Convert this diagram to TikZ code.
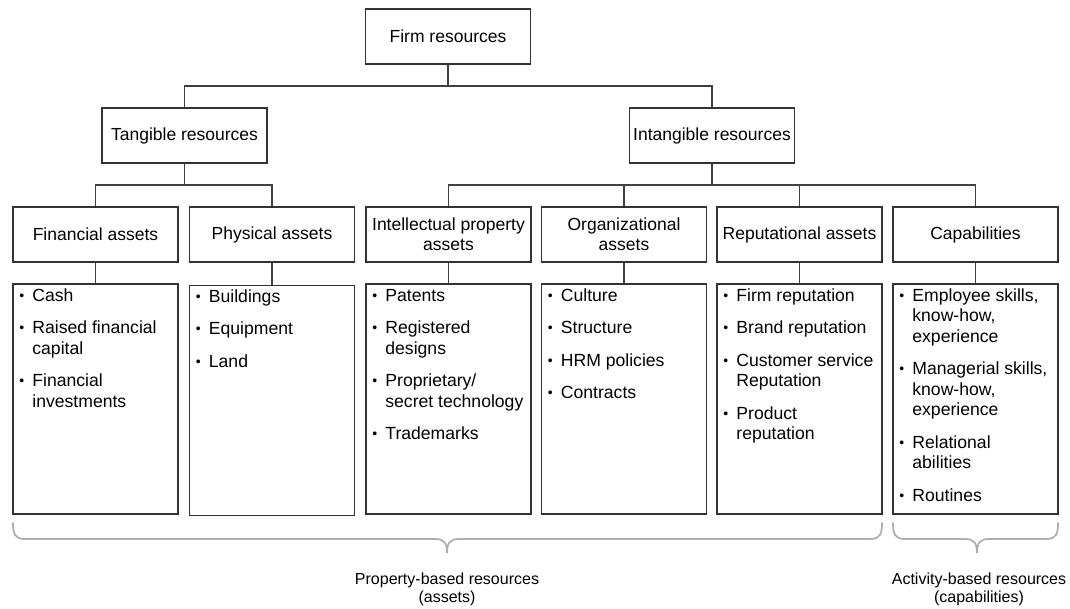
\documentclass[tikz,border=0pt]{standalone}
\usepackage{fontspec}
\setmainfont{Liberation Sans}
\usetikzlibrary{calc}

% type sizes
\newcommand{\boxfont}{\fontsize{17.5}{20}\selectfont}
\newcommand{\listfont}{\fontsize{17.6}{20.5}\selectfont}
\newcommand{\notefont}{\fontsize{16}{18}\selectfont}
% bullet list set as a two-column table: bullet | text
\newcommand{\blist}[1]{\begin{tabular}[t]{@{}p{13pt}@{}l@{}}#1\end{tabular}}
\newcommand{\bu}{{\fontsize{14}{14}\selectfont\raisebox{1pt}{•}}}
\newcommand{\gap}{\\[12pt]}

\begin{document}
\begin{tikzpicture}[x=1pt, y=-1pt,
  hbox/.style={draw=black!80, line width=1.6pt, minimum width=165pt,
    minimum height=55pt, inner sep=0pt, align=center, font=\boxfont},
  listbox/.style={draw=black!80, line width=1.6pt, minimum width=165pt,
    minimum height=230pt, inner sep=0pt},
  listtext/.style={anchor=base west, inner sep=0pt, font=\listfont, align=left},
  link/.style={draw=black!75, line width=1.7pt},
  elbow/.style={to path={(\tikztostart) |- ($(\tikztostart)!0.5!(\tikztotarget)$) -| (\tikztotarget)}},
  brace/.style={draw=black!32, line width=1.7pt, line cap=round},
  note/.style={align=center, inner sep=0pt, font=\notefont}]

\useasboundingbox (0,0) rectangle (1070,609);

% top levels
\node[hbox] (firm)   at (448,36.5)  {Firm resources};
\node[hbox] (tang)   at (184.5,135.5) {Tangible resources};
\node[hbox] (intang) at (712,135.5) {Intangible resources};

% resource categories
\node[hbox] (fin)  at (95.5,234.5)  {Financial assets};
\node[hbox] (phys) at (272,234.5)   {Physical assets};
\node[hbox] (ip)   at (448.5,234.5) {Intellectual property\\assets};
\node[hbox] (org)  at (624,234.5)   {Organizational\\assets};
\node[hbox] (rep)  at (799.5,234.5) {Reputational assets};
\node[hbox] (cap)  at (975.5,234.5) {Capabilities};

% item boxes
\node[listbox] (finL)  at (95.5,399)  {};
\node[listbox] (physL) at (272,400.5) {};
\node[listbox] (ipL)   at (448.5,399) {};
\node[listbox] (orgL)  at (624,399)   {};
\node[listbox] (repL)  at (799.5,399) {};
\node[listbox] (capL)  at (975.5,399) {};

\node[listtext] (finT) at ($(finL.north west)+(7,18)$) {\blist{%
  \bu & Cash\gap
  \bu & Raised financial\\ & capital\gap
  \bu & Financial\\ & investments}};
\node[listtext] (physT) at ($(physL.north west)+(7,17.5)$) {\blist{%
  \bu & Buildings\gap
  \bu & Equipment\gap
  \bu & Land}};
\node[listtext] (ipT) at ($(ipL.north west)+(7,18)$) {\blist{%
  \bu & Patents\gap
  \bu & Registered\\ & designs\gap
  \bu & Proprietary/\\ & secret technology\gap
  \bu & Trademarks}};
\node[listtext] (orgT) at ($(orgL.north west)+(7,18)$) {\blist{%
  \bu & Culture\gap
  \bu & Structure\gap
  \bu & HRM policies\gap
  \bu & Contracts}};
\node[listtext] (repT) at ($(repL.north west)+(7,18)$) {\blist{%
  \bu & Firm reputation\gap
  \bu & Brand reputation\gap
  \bu & Customer service\\ & Reputation\gap
  \bu & Product\\ & reputation}};
\node[listtext] (capT) at ($(capL.north west)+(7,18)$) {\blist{%
  \bu & Employee skills,\\ & know-how,\\ & experience\gap
  \bu & Managerial skills,\\ & know-how,\\ & experience\gap
  \bu & Relational\\ & abilities\gap
  \bu & Routines}};

% hierarchy connectors
\path[link] (firm.south) to[elbow] (tang.north);
\path[link] (firm.south) to[elbow] (intang.north);
\path[link] (tang.south) to[elbow] (fin.north);
\path[link] (tang.south) to[elbow] (phys.north);
\path[link] (intang.south) to[elbow] (ip.north);
\path[link] (intang.south) to[elbow] (org.north);
\path[link] (intang.south) to[elbow] (rep.north);
\path[link] (intang.south) to[elbow] (cap.north);
\foreach \n in {fin,phys,ip,org,rep,cap}
  \path[link] (\n.south) -- (\n L.north);

% grouping braces
\draw[brace] (13,523) .. controls (13,534) and (15,539) .. (25,539)
  -- (435,539) .. controls (444,539) and (447,543) .. (447,553)
  .. controls (447,543) and (450,539) .. (459,539)
  -- (870,539) .. controls (880,539) and (882,534) .. (882,523);
\draw[brace] (893,523) .. controls (893,534) and (895,539) .. (905,539)
  -- (965,539) .. controls (974,539) and (977,543) .. (977,553)
  .. controls (977,543) and (980,539) .. (989,539)
  -- (1046,539) .. controls (1056,539) and (1058,534) .. (1058,523);

\node[note] (prop) at (447,589) {Property-based resources\\(assets)};
\node[note] (act)  at (979,589) {Activity-based resources\\(capabilities)};
\end{tikzpicture}
\end{document}
